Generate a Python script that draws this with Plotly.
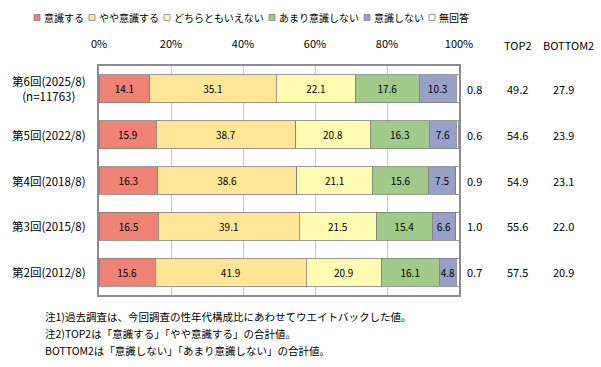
import plotly.graph_objects as go

categories = ["第6回(2025/8)<br>(n=11763)", "第5回(2022/8)", "第4回(2018/8)", "第3回(2015/8)", "第2回(2012/8)"]
series_names = ["意識する", "やや意識する", "どちらともいえない", "あまり意識しない", "意識しない", "無回答"]
v_ishiki = [14.1, 15.9, 16.3, 16.5, 15.6]
v_yaya = [35.1, 38.7, 38.6, 39.1, 41.9]
v_dochira = [22.1, 20.8, 21.1, 21.5, 20.9]
v_amari = [17.6, 16.3, 15.6, 15.4, 16.1]
v_shinai = [10.3, 7.6, 7.5, 6.6, 4.8]
v_mukaito = [0.8, 0.6, 0.9, 1.0, 0.7]
top2 = [49.2, 54.6, 54.9, 55.6, 57.5]
bottom2 = [27.9, 23.9, 23.1, 22.0, 20.9]
x_ticks = [0, 20, 40, 60, 80, 100]
x_tick_labels = ["0%", "20%", "40%", "60%", "80%", "100%"]
notes = [
    "注1)過去調査は、今回調査の性年代構成比にあわせてウエイトバックした値。",
    "注2)TOP2は「意識する」「やや意識する」の合計値。",
    "BOTTOM2は「意識しない」「あまり意識しない」の合計値。",
]

colors = ["#EE8375", "#FFE596", "#FFFCB2", "#A0C98A", "#99A0C8", "#FFFFFF"]
series_vals = [v_ishiki, v_yaya, v_dochira, v_amari, v_shinai, v_mukaito]
FONT = "Noto Sans CJK JP, Meiryo, sans-serif"
ycats = [f"c{i}" for i in range(len(categories))]

L, R = 99, 459
T, B = 66, 295
W, H = 601, 367

def px2paper(px):
    return (px - L) / (R - L)

def py2paper(py):
    return (B - py) / (B - T)

fig = go.Figure()
for i, (name, vals, col) in enumerate(zip(series_names, series_vals, colors)):
    show_text = i < 5
    fig.add_trace(go.Bar(
        y=ycats, x=vals, name=name, orientation="h",
        marker=dict(color=col, line=dict(color="#7F7F7F", width=0.8)),
        text=[f"{v:.1f}" for v in vals] if show_text else None,
        textposition="inside" if show_text else "none",
        insidetextanchor="middle", textangle=0, constraintext="none",
        textfont=dict(size=10, color="#000000", family=FONT),
        showlegend=False, hoverinfo="skip",
    ))

ann = []
for yc, lab in zip(ycats, categories):
    ann.append(dict(x=px2paper(88), xref="paper", y=yc, yref="y", text=lab, showarrow=False,
                    xanchor="right", align="center", font=dict(size=11.5, color="#000", family=FONT)))
for yc, m, t, b in zip(ycats, v_mukaito, top2, bottom2):
    ann.append(dict(x=px2paper(465), xref="paper", y=yc, yref="y", showarrow=False,
                    text=f"{m:.1f}", xanchor="left", font=dict(size=11, color="#000", family=FONT)))
    ann.append(dict(x=px2paper(517), xref="paper", y=yc, yref="y", showarrow=False, text=f"{t:.1f}",
                    xanchor="center", font=dict(size=11, color="#000", family=FONT)))
    ann.append(dict(x=px2paper(563), xref="paper", y=yc, yref="y", showarrow=False, text=f"{b:.1f}",
                    xanchor="center", font=dict(size=11, color="#000", family=FONT)))

for txt, px in [("TOP2", 518), ("BOTTOM2", 568)]:
    ann.append(dict(x=px2paper(px), xref="paper", y=py2paper(45), yref="paper", text=txt,
                    showarrow=False, xanchor="center", yanchor="middle",
                    font=dict(size=11, color="#000", family=FONT)))

for j, n in enumerate(notes):
    ann.append(dict(x=px2paper(43), xref="paper", y=py2paper(316 + 17 * j), yref="paper", text=n,
                    showarrow=False, xanchor="left", yanchor="middle",
                    font=dict(size=10.5, color="#000", family=FONT)))

# manual legend, laid out cumulatively
shapes = []
LEG_FS = 10
text_w = [len(n) * LEG_FS for n in series_names]
total = sum(9 + w for w in text_w) + 6 * (len(series_names) - 1)
lx = 251 - total / 2
for name, col, w in zip(series_names, colors, text_w):
    shapes.append(dict(type="rect", xref="paper", yref="paper",
                       x0=px2paper(lx), x1=px2paper(lx + 6), y0=py2paper(20.5), y1=py2paper(14.5),
                       fillcolor=col, line=dict(color="#808080", width=0.8)))
    ann.append(dict(x=px2paper(lx + 8), xref="paper", y=py2paper(17.5), yref="paper", text=name,
                    showarrow=False, xanchor="left", yanchor="middle",
                    font=dict(size=LEG_FS, color="#000", family=FONT)))
    lx += 9 + w + 6

fig.update_layout(
    width=W, height=H, barmode="stack", bargap=0.39,
    margin=dict(l=L, r=W - R, t=T, b=H - B, pad=0, autoexpand=False),
    paper_bgcolor="white", plot_bgcolor="white",
    font=dict(family=FONT, size=11, color="#000"),
    annotations=ann, shapes=shapes,
    xaxis=dict(range=[0, 100], side="top", tickvals=x_ticks, ticktext=x_tick_labels,
               showgrid=True, gridcolor="#C8C8C8", gridwidth=1, zeroline=False,
               showline=True, linecolor="#8C8C8C", linewidth=1.5, mirror=True,
               ticks="", ticklabelstandoff=12, tickfont=dict(size=11, family=FONT)),
    yaxis=dict(categoryorder="array", categoryarray=ycats, autorange="reversed",
               showticklabels=False, showgrid=False, zeroline=False,
               showline=True, linecolor="#8C8C8C", linewidth=1.5, mirror=True, ticks=""),
)

fig.write_html("out.html", config={"displayModeBar": False},
               post_script="document.body.style.margin='0';document.body.style.padding='0';")
